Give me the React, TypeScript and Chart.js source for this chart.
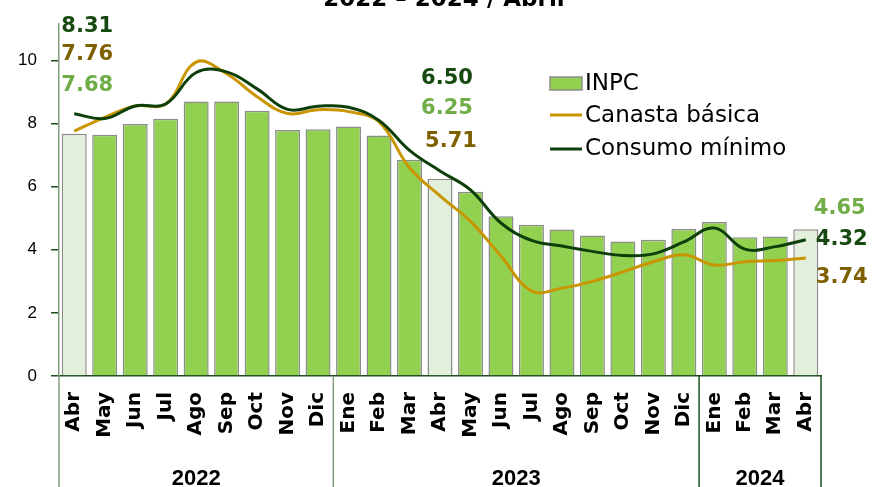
import React, { useEffect, useRef } from "react";
import { Chart, registerables } from "chart.js";

Chart.register(...registerables);

const months = ["Abr","May","Jun","Jul","Ago","Sep","Oct","Nov","Dic","Ene","Feb","Mar","Abr","May","Jun","Jul","Ago","Sep","Oct","Nov","Dic","Ene","Feb","Mar","Abr"];
const yearLabels = ["2022", "2023", "2024"];
const yearStarts = [0, 9, 21];
const yearEnds = [8, 20, 24];
const inpc = [7.68,7.65,7.99,8.15,8.70,8.70,8.41,7.80,7.82,7.91,7.62,6.85,6.25,5.84,5.06,4.79,4.64,4.45,4.26,4.32,4.66,4.88,4.40,4.42,4.65];
const canasta = [7.76,8.20,8.56,8.62,9.95,9.58,8.85,8.32,8.44,8.38,8.05,6.60,5.71,4.90,3.80,2.70,2.78,3.00,3.30,3.62,3.84,3.52,3.62,3.66,3.74];
const consumo = [8.31,8.16,8.56,8.62,9.62,9.64,9.10,8.45,8.55,8.52,8.10,7.15,6.50,5.90,4.85,4.30,4.12,3.95,3.82,3.87,4.25,4.69,4.02,4.10,4.32];
const yTicks = [0, 2, 4, 6, 8, 10];
const titleText = "2022 – 2024 / Abril";

const BAR_GREEN = "#92d050";
const BAR_LIGHT = "#e2efda";
const BAR_BORDER = "#8c8c8c";
const ORANGE = "#c99500";
const DARK = "#0d3f0a";
const LBL_DARK = "#174a10";
const LBL_BROWN = "#7f6000";
const LBL_LIGHT = "#70ad47";

export default function App() {
  const ref = useRef<HTMLCanvasElement | null>(null);
  useEffect(() => {
    document.body.style.margin = "0";
    const canvas = ref.current!;
    const overlay = {
      id: "overlay",
      afterDraw(chart: any) {
        const ctx = chart.ctx;
        const xs = chart.scales.x;
        const area = chart.chartArea;
        ctx.save();
        // title (cut at top)
        ctx.font = "bold 23px 'DejaVu Sans'";
        ctx.fillStyle = "#000";
        ctx.textAlign = "center";
        ctx.textBaseline = "alphabetic";
        ctx.fillText(titleText, 444, 6);

        // data labels
        const labels = [
          { arr: consumo, i: 0, color: LBL_DARK, dx: 13, y: 32 },
          { arr: canasta, i: 0, color: LBL_BROWN, dx: 13, y: 60 },
          { arr: inpc, i: 0, color: LBL_LIGHT, dx: 13, y: 91 },
          { arr: consumo, i: 12, color: LBL_DARK, dx: 7, y: 84 },
          { arr: inpc, i: 12, color: LBL_LIGHT, dx: 7, y: 114 },
          { arr: canasta, i: 12, color: LBL_BROWN, dx: 11, y: 147 },
          { arr: inpc, i: 24, color: LBL_LIGHT, dx: 34, y: 214 },
          { arr: consumo, i: 24, color: LBL_DARK, dx: 36, y: 245 },
          { arr: canasta, i: 24, color: LBL_BROWN, dx: 36, y: 283 },
        ];
        ctx.font = "bold 21px 'DejaVu Sans'";
        ctx.textAlign = "center";
        for (const l of labels) {
          ctx.fillStyle = l.color;
          ctx.fillText(l.arr[l.i].toFixed(2), xs.getPixelForValue(l.i) + l.dx, l.y);
        }

        // legend
        const lx = 550;
        ctx.fillStyle = BAR_GREEN;
        ctx.fillRect(lx, 77, 32, 13);
        ctx.strokeStyle = BAR_BORDER;
        ctx.lineWidth = 1.5;
        ctx.strokeRect(lx, 77, 32, 13);
        ctx.lineWidth = 3;
        ctx.strokeStyle = ORANGE;
        ctx.beginPath(); ctx.moveTo(lx, 115); ctx.lineTo(lx + 32, 115); ctx.stroke();
        ctx.strokeStyle = DARK;
        ctx.beginPath(); ctx.moveTo(lx, 149); ctx.lineTo(lx + 32, 149); ctx.stroke();
        ctx.font = "23px 'DejaVu Sans'";
        ctx.fillStyle = "#000";
        ctx.textAlign = "left";
        ctx.textBaseline = "middle";
        ctx.fillText("INPC", lx + 35, 84);
        ctx.fillText("Canasta básica", lx + 35, 116);
        ctx.fillText("Consumo mínimo", lx + 35, 149);

        // year groups
        const half = (xs.getPixelForValue(1) - xs.getPixelForValue(0)) / 2;
        ctx.font = "bold 22px 'Liberation Sans'";
        ctx.textAlign = "center";
        ctx.textBaseline = "alphabetic";
        ctx.lineWidth = 1.5;
        for (let g = 0; g < yearLabels.length; g++) {
          const x0 = xs.getPixelForValue(yearStarts[g]) - half;
          const x1 = xs.getPixelForValue(yearEnds[g]) + half;
          ctx.strokeStyle = g === 2 ? "#1e4d1e" : "#7f9f7f";
          ctx.beginPath(); ctx.moveTo(x0, area.bottom); ctx.lineTo(x0, 487); ctx.stroke();
          if (g === 2) {
            ctx.beginPath(); ctx.moveTo(x1, area.bottom); ctx.lineTo(x1, 487); ctx.stroke();
          }
          ctx.fillStyle = "#000";
          ctx.fillText(yearLabels[g], (x0 + x1) / 2, 485);
        }
        ctx.restore();
      },
    };

    const chart = new Chart(canvas, {
      type: "bar",
      data: {
        labels: months,
        datasets: [
          {
            type: "line",
            label: "Consumo mínimo",
            data: consumo,
            borderColor: DARK,
            borderWidth: 3,
            pointRadius: 0,
            tension: 0.4,
            order: 0,
          } as any,
          {
            type: "line",
            label: "Canasta básica",
            data: canasta,
            borderColor: ORANGE,
            borderWidth: 3,
            pointRadius: 0,
            tension: 0.4,
            order: 1,
          } as any,
          {
            type: "bar",
            label: "INPC",
            data: inpc,
            backgroundColor: months.map((m) => (m === "Abr" ? BAR_LIGHT : BAR_GREEN)),
            borderColor: BAR_BORDER,
            borderWidth: 1.5,
            barPercentage: 0.82,
            categoryPercentage: 1,
            order: 2,
          } as any,
        ],
      },
      options: {
        responsive: false,
        animation: false,
        devicePixelRatio: 1,
        layout: { padding: { left: 0, right: 59, top: 20, bottom: 0 } },
        plugins: { legend: { display: false }, title: { display: false }, tooltip: { enabled: false } },
        scales: {
          x: {
            grid: { display: false, drawTicks: false },
            border: { display: true, color: "#1e4d1e", width: 1.5 },
            ticks: {
              autoSkip: false,
              minRotation: 90,
              maxRotation: 90,
              padding: 16,
              color: "#000",
              font: { family: "'DejaVu Sans'", size: 20, weight: "bold" },
            },
            afterFit: (s: any) => { s.height = 111; },
          },
          y: {
            min: 0,
            max: 11.15,
            afterBuildTicks: (s: any) => { s.ticks = yTicks.map((v) => ({ value: v })); },
            grid: { drawOnChartArea: false, drawTicks: true, tickLength: 8, color: "#1e4d1e", lineWidth: 1.5 },
            border: { display: true, color: "#7f9f7f", width: 1.5 },
            ticks: {
              padding: 14,
              color: "#000",
              font: { family: "'Liberation Sans'", size: 17 },
            },
            afterFit: (s: any) => { s.width = 59; },
          },
        },
      },
      plugins: [overlay],
    });
    return () => chart.destroy();
  }, []);
  return (
    <div style={{ position: "absolute", left: 0, top: 0, width: 880, height: 487 }}>
      <canvas ref={ref} width={880} height={487} />
    </div>
  );
}
